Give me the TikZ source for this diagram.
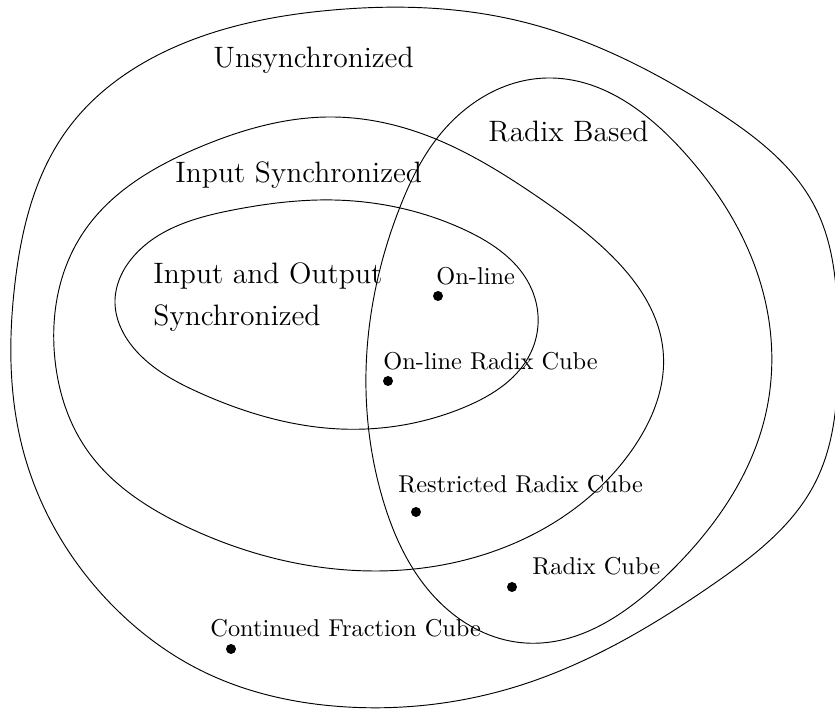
\documentclass[tikz,border=0pt]{standalone}
\usepackage{tikz}
\usetikzlibrary{positioning}
\usetikzlibrary{hobby}

\tikzset{
  dot/.style={circle,fill=black,inner sep=0pt,minimum size=1.5mm},
  lbl/.style={anchor=base west,inner sep=0pt,font=\fontsize{10.4pt}{12.5pt}\selectfont},
  biglbl/.style={lbl,font=\fontsize{12.6pt}{15pt}\selectfont},
  set/.style={use Hobby shortcut,closed=true}
}

\begin{document}
\begin{tikzpicture}[x=1.5cm,y=1.5cm]
  % \draw [help lines] (0,0) grid (8,7);
  \useasboundingbox (0,0) rectangle (8.35,7.09);

  % Unsynchronized
  \draw[set] (3.33,6.99) .. (2.00,6.72) .. (0.67,5.79) .. (0.15,4.26)
    .. (0.23,2.59) .. (1.17,0.99) .. (2.00,0.39) .. (3.47,0.02) .. (5.15,0.22)
    .. (7.15,1.26) .. (8.15,2.26) .. (8.38,3.69) .. (8.15,5.02) .. (7.15,5.99)
    .. (5.15,6.89);

  % Input Synchronized
  \draw[set] (3.33,5.92) .. (2.00,5.62) .. (0.83,4.76) .. (0.55,3.49)
    .. (0.87,2.59) .. (1.87,1.82) .. (3.47,1.39) .. (5.15,1.66) .. (6.32,2.59)
    .. (6.63,3.59) .. (5.98,4.66) .. (5.32,5.16) .. (4.20,5.76);

  % Input and Output Synchronized
  \draw[set] (3.33,5.09) .. (2.33,4.99) .. (1.33,4.52) .. (1.15,4.09)
    .. (1.40,3.54) .. (2.00,3.16) .. (3.40,2.80) .. (4.65,3.02) .. (5.32,3.59)
    .. (5.32,4.19) .. (4.65,4.79);

  % Radix Based
  \draw[set] (5.48,6.31) .. (4.38,5.72) .. (4.00,5.02) .. (3.67,3.59)
    .. (3.83,2.09) .. (4.48,0.99) .. (5.25,0.66) .. (6.65,1.32) .. (7.65,2.92)
    .. (7.65,4.09) .. (6.82,5.59);

  % set names
  \node[biglbl] (unsync) at (2.13,6.41) {Unsynchronized};
  \node[biglbl] (insync) at (1.75,5.26) {Input Synchronized};
  \node[biglbl,anchor=north west,align=left] (iosync) at (1.53,4.47)
    {Input and Output\\[3pt]Synchronized};
  \node[biglbl] (radix) at (4.88,5.67) {Radix Based};

  % members
  \node[dot] (online) at (4.38,4.13) {};
  \node[lbl] (online-lbl) at (4.36,4.24) {On-line};
  \node[dot] (olrc) at (3.88,3.28) {};
  \node[lbl] (olrc-lbl) at (3.83,3.39) {On-line Radix Cube};
  \node[dot] (rrc) at (4.16,1.97) {};
  \node[lbl] (rrc-lbl) at (3.98,2.16) {Restricted Radix Cube};
  \node[dot] (rc) at (5.12,1.22) {};
  \node[lbl] (rc-lbl) at (5.32,1.34) {Radix Cube};
  \node[dot] (cfc) at (2.31,0.60) {};
  \node[lbl] (cfc-lbl) at (2.10,0.72) {Continued Fraction Cube};
\end{tikzpicture}
\end{document}
